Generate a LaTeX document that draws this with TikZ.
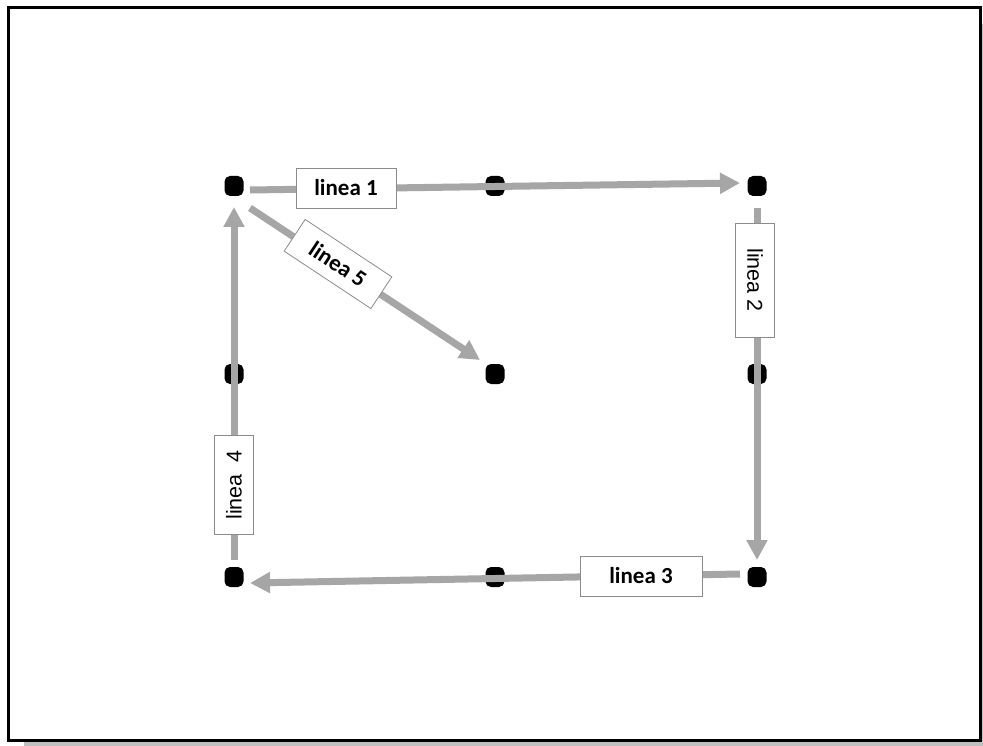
\documentclass[tikz,border=0pt]{standalone}
\usepackage{fontspec}
\setmainfont{Carlito}
\newfontfamily\arialfont{Liberation Sans}
\usetikzlibrary{arrows.meta}
\definecolor{linegray}{HTML}{A6A6A6}
\definecolor{shadowgray}{HTML}{BFBFBF}
\definecolor{boxgray}{HTML}{8C8C8C}
\begin{document}
\begin{tikzpicture}[x=1pt,y=-1pt,
 dot/.style={fill=black, rounded corners=5.5pt, minimum width=19pt, minimum height=20pt, inner sep=0pt},
 conn/.style={draw=linegray, line width=7pt, -{Triangle[length=20pt,width=20pt]}},
 lab/.style={draw=boxgray, fill=white, line width=0.8pt, inner sep=0pt, minimum width=100pt, minimum height=40pt, font=\fontsize{23}{27}\selectfont\bfseries},
 laba/.style={lab, minimum width=114pt, minimum height=39pt, font=\arialfont\fontsize{21.5}{25}\selectfont}
]
\useasboundingbox (0,0) rectangle (983,746);
% frame with shadow
\fill[shadowgray] (24,24) rectangle (983,746);
\draw[line width=3pt, fill=white] (8,8) rectangle (980,740);
% dots
\node[dot] (a) at (234,186) {};
\node[dot] (b) at (495,186) {};
\node[dot] (c) at (757,186) {};
\node[dot] (d) at (234,374) {};
\node[dot] (e) at (495,374) {};
\node[dot] (f) at (757,374) {};
\node[dot] (g) at (234,577) {};
\node[dot] (h) at (495,577) {};
\node[dot] (i) at (757,577) {};
% connectors
\draw[conn] ([shift={(16,4)}]a.center) -- ([shift={(-17,-3)}]c.center);
\draw[conn] ([shift={(0,22)}]c.center) -- ([shift={(0,-17)}]i.center);
\draw[conn] ([shift={(-17,-3)}]i.center) -- ([shift={(16,6)}]g.center);
\draw[conn] ([shift={(0,-17)}]g.center) -- ([shift={(0,21)}]a.center);
\draw[conn] ([shift={(16,22)}]a.center) -- ([shift={(-15,-14)}]e.center);
% labels
\node[lab] (l1) at (346,188) {linea 1};
\node[laba, rotate=-90] (l2) at (755,280) {linea 2};
\node[lab, minimum width=122pt] (l3) at (641,576) {linea 3};
\node[laba, minimum width=99pt, rotate=90] (l4) at (234,485) {linea\ \ 4};
\node[lab, minimum width=104pt, minimum height=38pt, rotate=-33.5] (l5) at (338,264) {linea 5};
\end{tikzpicture}
\end{document}
